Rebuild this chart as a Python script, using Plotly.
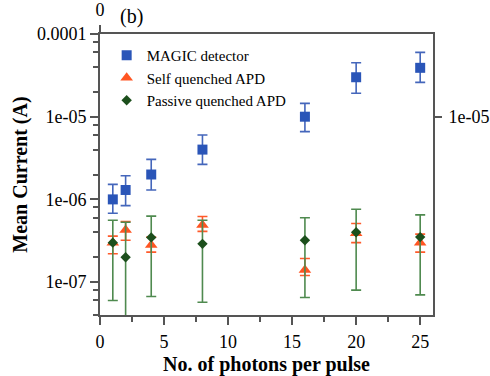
import plotly.graph_objects as go

photons = [1, 2, 4, 8, 16, 20, 25]

magic = [1.0e-6, 1.3e-6, 2.0e-6, 4.0e-6, 1.0e-5, 3.0e-5, 3.9e-5]
magic_plus = [0.52e-6, 0.63e-6, 1.05e-6, 2.0e-6, 4.5e-6, 1.5e-5, 2.1e-5]
magic_minus = [0.32e-6, 0.46e-6, 0.7e-6, 1.35e-6, 3.4e-6, 1.08e-5, 1.3e-5]

selfq = [3.0e-7, 4.25e-7, 2.8e-7, 4.9e-7, 1.4e-7, 3.9e-7, 3.0e-7]
selfq_plus = [0.6e-7, 1.15e-7, 0.7e-7, 1.3e-7, 0.53e-7, 1.2e-7, 0.8e-7]
selfq_minus = [0.8e-7, 1.05e-7, 0.5e-7, 0.8e-7, 0.2e-7, 0.9e-7, 0.7e-7]

passive = [3.0e-7, 2.0e-7, 3.47e-7, 2.9e-7, 3.2e-7, 4.0e-7, 3.5e-7]
passive_plus = [2.6e-7, 3.3e-7, 2.8e-7, 2.7e-7, 2.8e-7, 3.6e-7, 3.0e-7]
passive_minus = [2.4e-7, 3.3e-7, 2.8e-7, 2.33e-7, 2.55e-7, 3.2e-7, 2.8e-7]

y_ticks = [1e-4, 1e-5, 1e-6, 1e-7]
y_ticktext = ["0.0001", "1e-05", "1e-06", "1e-07"]
x_ticks = [0, 5, 10, 15, 20, 25]

SERIF = "Liberation Serif, Times New Roman, serif"
AX = "#555555"

fig = go.Figure()
fig.add_trace(go.Scatter(
    x=photons, y=magic, mode="markers", name="MAGIC detector",
    marker=dict(symbol="square", size=10, color="#2a55b8"),
    error_y=dict(type="data", symmetric=False, array=magic_plus, arrayminus=magic_minus,
                 color="#4466bb", thickness=1.6, width=5),
))
fig.add_trace(go.Scatter(
    x=photons, y=selfq, mode="markers", name="Self quenched APD",
    marker=dict(symbol="triangle-up", size=11, color="#ff5522"),
    error_y=dict(type="data", symmetric=False, array=selfq_plus, arrayminus=selfq_minus,
                 color="#ff5a2a", thickness=1.6, width=5),
))
fig.add_trace(go.Scatter(
    x=photons, y=passive, mode="markers", name="Passive quenched APD",
    marker=dict(symbol="diamond", size=8, color="#1c4f1c"),
    error_y=dict(type="data", symmetric=False, array=passive_plus, arrayminus=passive_minus,
                 color="#4f8a4f", thickness=1.6, width=5),
))
# invisible trace to activate secondary axes
fig.add_trace(go.Scatter(x=[None], y=[None], xaxis="x2", yaxis="y2", showlegend=False, hoverinfo="skip"))

yr = [-7.398, -4.0]
fig.update_layout(
    width=490, height=376,
    margin=dict(l=100, r=57, t=34, b=61),
    paper_bgcolor="white", plot_bgcolor="white",
    font=dict(family=SERIF, size=18, color="black"),
    showlegend=True,
    legend=dict(x=0.02, y=0.982, xanchor="left", yanchor="top",
                font=dict(family=SERIF, size=15, color="black"),
                bgcolor="rgba(0,0,0,0)", itemwidth=30, tracegroupgap=0),
    xaxis=dict(range=[0, 26], tickmode="array", tickvals=x_ticks, automargin=False,
               ticks="outside", ticklen=8, tickwidth=1.5, tickcolor=AX,
               showline=True, linecolor=AX, linewidth=1.6, mirror=True,
               showgrid=False, zeroline=False, ticklabelstandoff=2,
               tickfont=dict(family=SERIF, size=18, color="black"),
               minor=dict(tickmode="array", tickvals=[2.5, 7.5, 12.5, 17.5, 22.5],
                          ticks="outside", ticklen=5, tickwidth=1.5, tickcolor=AX),
               title=dict(text="<b>No. of photons per pulse</b>",
                          font=dict(family=SERIF, size=20, color="black"), standoff=9)),
    yaxis=dict(type="log", range=yr, tickmode="array", tickvals=y_ticks, ticktext=y_ticktext,
               automargin=False,
               ticks="outside", ticklen=8, tickwidth=1.5, tickcolor=AX,
               showline=True, linecolor=AX, linewidth=1.6, mirror=True,
               showgrid=False, zeroline=False,
               tickfont=dict(family=SERIF, size=18, color="black"),
               minor=dict(tickmode="array",
                          tickvals=[m * 10.0 ** e for e in (-8, -7, -6, -5) for m in (2, 4, 6, 8)],
                          ticks="outside", ticklen=5, tickwidth=1.5, tickcolor=AX),
               title=dict(text="<b>Mean Current (A)</b>",
                          font=dict(family=SERIF, size=20, color="black"), standoff=4)),
    xaxis2=dict(overlaying="x", side="top", range=[0, 26], tickmode="array", tickvals=[0],
                automargin=False,
                ticks="outside", ticklen=8, tickwidth=1.5, tickcolor=AX,
                showline=False, showgrid=False, zeroline=False, ticklabelstandoff=2,
                tickfont=dict(family=SERIF, size=18, color="black")),
    yaxis2=dict(overlaying="y", side="right", type="log", range=yr, tickmode="array",
                tickvals=[1e-5], ticktext=["1e-05"], automargin=False,
                ticks="outside", ticklen=8, tickwidth=1.5, tickcolor=AX,
                showline=False, showgrid=False, zeroline=False, ticklabelstandoff=3,
                tickfont=dict(family=SERIF, size=18, color="black")),
    annotations=[dict(text="(b)", xref="paper", yref="paper", x=0.053, y=1.0,
                      xanchor="left", yanchor="bottom", showarrow=False, yshift=4,
                      font=dict(family=SERIF, size=20, color="black"))],
)

fig.write_html("out.html")
